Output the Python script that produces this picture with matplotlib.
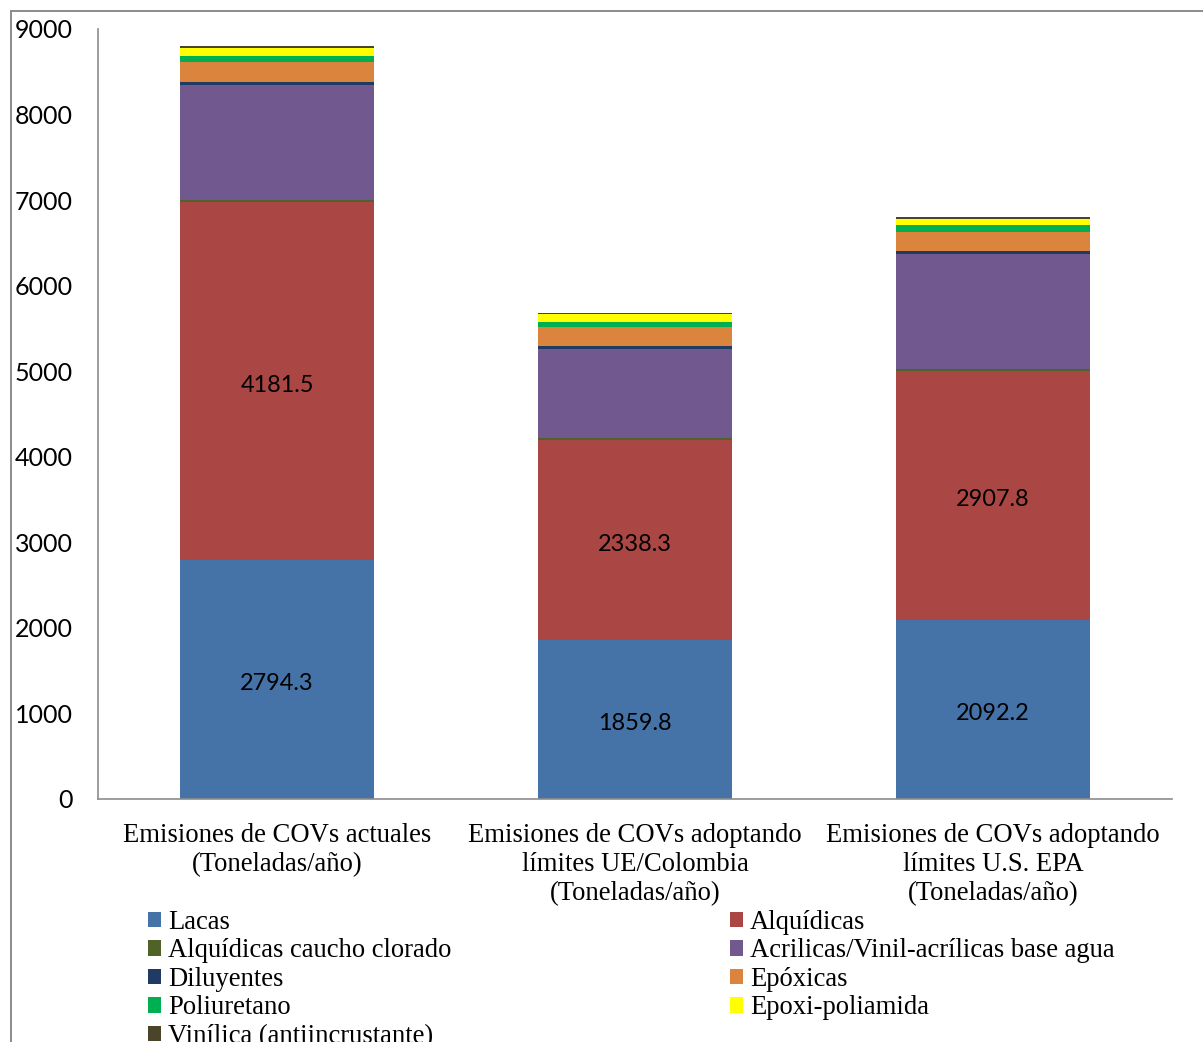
import matplotlib
matplotlib.use("Agg")
import matplotlib.pyplot as plt
from matplotlib.lines import Line2D
from matplotlib.transforms import offset_copy
import numpy as np

categories = [
    "Emisiones de COVs actuales\n(Toneladas/año)",
    "Emisiones de COVs adoptando\nlímites UE/Colombia\n(Toneladas/año)",
    "Emisiones de COVs adoptando\nlímites U.S. EPA\n(Toneladas/año)",
]

series_names = [
    "Lacas", "Alquídicas", "Alquídicas caucho clorado",
    "Acrilicas/Vinil-acrílicas base agua", "Diluyentes", "Epóxicas",
    "Poliuretano", "Epoxi-poliamida", "Vinílica (antiincrustante)",
]

lacas = [2794.3, 1859.8, 2092.2]
alquidicas = [4181.5, 2338.3, 2907.8]
alquidicas_caucho = [30, 23, 31]
acrilicas = [1335, 1040, 1335]
diluyentes = [37, 39, 41]
epoxicas = [234, 214, 222]
poliuretano = [78, 66, 78]
epoxi_poliamida = [86, 90, 78]
vinilica = [22, 16, 16]

colors = ["#4572A7", "#AA4643", "#4F6228", "#71588F", "#1F3B63",
          "#DB843D", "#00B050", "#FFFF00", "#4A452A"]

labelled = {"Lacas", "Alquídicas"}

series = [lacas, alquidicas, alquidicas_caucho, acrilicas, diluyentes,
          epoxicas, poliuretano, epoxi_poliamida, vinilica]

W, H = 1203, 1042
fig = plt.figure(figsize=(W / 100, H / 100), dpi=100)
ax = fig.add_axes([98 / W, 1 - 799 / H, (1172 - 98) / W, (799 - 29) / H])

label_tf = offset_copy(ax.transData, fig=fig, x=0, y=-3, units="points")

x = np.arange(len(categories))
bottom = np.zeros(len(categories))
handles = []
for name, vals, col in zip(series_names, series, colors):
    vals = np.array(vals, dtype=float)
    bars = ax.bar(x, vals, 0.54, bottom=bottom, color=col, label=name,
                  linewidth=0)
    handles.append(bars)
    if name in labelled:
        for xi, b, v in zip(x, bottom, vals):
            ax.text(xi, b + v / 2, f"{v:.1f}", ha="center", va="center",
                    fontsize=16.9, family="Lato", color="black",
                    transform=label_tf)
    bottom += vals

ax.set_xlim(-0.5, 2.5)
ax.set_ylim(0, 9000)
ax.set_yticks(np.arange(0, 9001, 1000))
ax.set_yticklabels([str(v) for v in range(0, 9001, 1000)], family="Lato",
                   fontsize=18)
ax.set_xticks(x)
ax.set_xticklabels(categories, family="Liberation Serif", fontsize=19.2,
                   linespacing=1.22)
ax.tick_params(axis="y", length=0, pad=18)
ax.tick_params(axis="x", length=0, pad=17)
for s in ["top", "right"]:
    ax.spines[s].set_visible(False)
for s in ["left", "bottom"]:
    ax.spines[s].set_color("#8c8c8c")
    ax.spines[s].set_linewidth(1.2)

# entries read row by row across the two columns
order = [0, 2, 4, 6, 8, 1, 3, 5, 7]
leg = fig.legend(handles=[handles[i] for i in order],
                 labels=[series_names[i] for i in order], ncol=2,
                 loc="upper left", bbox_to_anchor=(148 / W, 1 - 910 / H),
                 frameon=False, prop={"family": "Liberation Serif", "size": 19.2},
                 handlelength=0.5, handleheight=0.5, handletextpad=0.25,
                 columnspacing=10.45, labelspacing=0.13, borderpad=0,
                 borderaxespad=0)

# outer frame: left and top edges only
fig.add_artist(Line2D([10.5 / W, 10.5 / W], [0, 1 - 10.5 / H],
                      transform=fig.transFigure, color="#8c8c8c", lw=1.4))
fig.add_artist(Line2D([10.5 / W, 1], [1 - 11 / H, 1 - 11 / H],
                      transform=fig.transFigure, color="#8c8c8c", lw=1.4))

fig.savefig("out.png", dpi=100)
